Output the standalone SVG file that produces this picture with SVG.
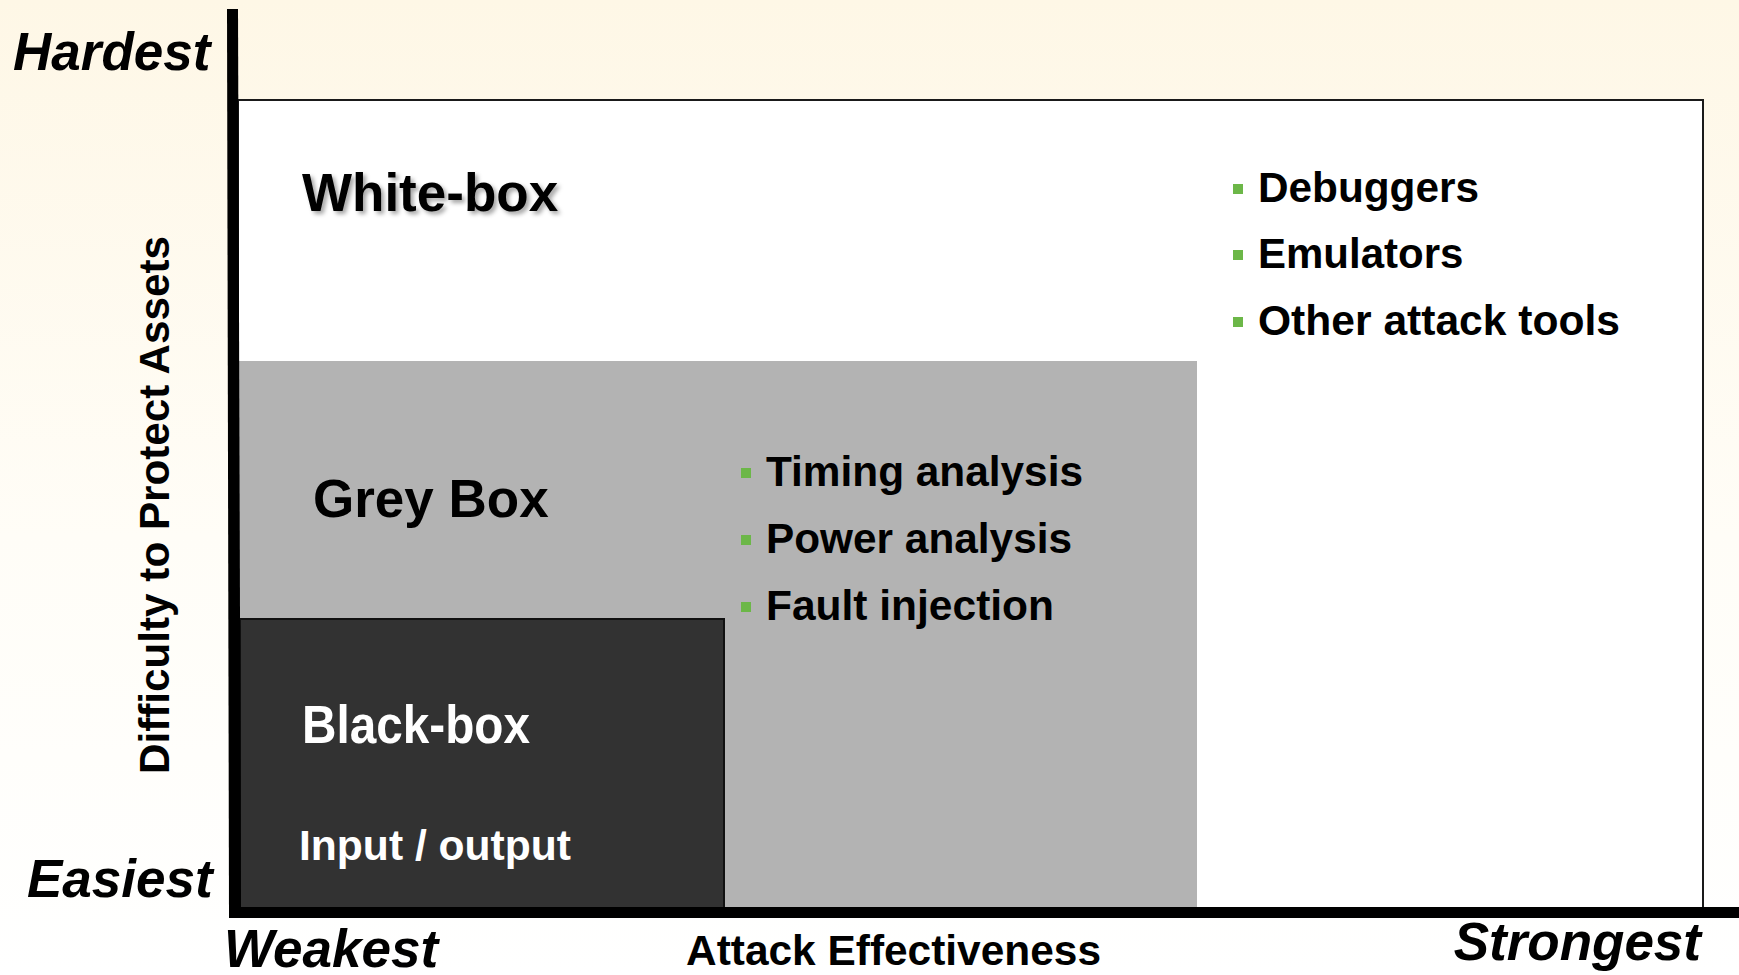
<svg xmlns="http://www.w3.org/2000/svg" width="1739" height="975" viewBox="0 0 1739 975">
  <defs>
    <linearGradient id="bgGrad" x1="0" y1="0" x2="0" y2="1">
      <stop offset="0" stop-color="#fef7e6"/>
      <stop offset="0.55" stop-color="#fffdf7"/>
      <stop offset="1" stop-color="#ffffff"/>
    </linearGradient>
    <filter id="softShadow" x="-10%" y="-30%" width="120%" height="160%">
      <feDropShadow dx="3" dy="3" stdDeviation="2" flood-color="#000000" flood-opacity="0.35"/>
    </filter>
    <style>
      .axis-end { font-family: "Liberation Sans", Arial, sans-serif; font-weight: bold; font-style: italic; font-size: 53px; fill: #000; }
      .axis-title { font-family: "Liberation Sans", Arial, sans-serif; font-weight: bold; font-size: 42px; fill: #000; }
      .zone-title { font-family: "Liberation Sans", Arial, sans-serif; font-weight: bold; font-size: 53px; fill: #000; }
      .item { font-family: "Liberation Sans", Arial, sans-serif; font-weight: bold; font-size: 42px; fill: #000; }
      .light { fill: #ffffff; }
      .bullet { fill: #6cb748; }
    </style>
  </defs>

  <!-- page background -->
  <rect x="0" y="0" width="1739" height="975" fill="url(#bgGrad)"/>

  <!-- White-box zone (outer frame) -->
  <g id="white-box">
    <rect x="238" y="100" width="1465" height="808" fill="#ffffff" stroke="#1a1a1a" stroke-width="2"/>
    <text class="zone-title" x="302" y="211" filter="url(#softShadow)">White-box</text>
    <rect class="bullet" x="1233" y="184" width="10" height="10"/>
    <text class="item" x="1258" y="202" textLength="221" lengthAdjust="spacingAndGlyphs">Debuggers</text>
    <rect class="bullet" x="1233" y="250" width="10" height="10"/>
    <text class="item" x="1258" y="268">Emulators</text>
    <rect class="bullet" x="1233" y="317" width="10" height="10"/>
    <text class="item" x="1258" y="335" textLength="362" lengthAdjust="spacingAndGlyphs">Other attack tools</text>
  </g>

  <!-- Grey Box zone -->
  <g id="grey-box">
    <rect x="239" y="361" width="958" height="547" fill="#b3b3b3"/>
    <text class="zone-title" x="313" y="517">Grey Box</text>
    <rect class="bullet" x="741" y="468" width="10" height="10"/>
    <text class="item" x="766" y="486" textLength="317" lengthAdjust="spacingAndGlyphs">Timing analysis</text>
    <rect class="bullet" x="741" y="535" width="10" height="10"/>
    <text class="item" x="766" y="553" textLength="306" lengthAdjust="spacingAndGlyphs">Power analysis</text>
    <rect class="bullet" x="741" y="602" width="10" height="10"/>
    <text class="item" x="766" y="620" textLength="288" lengthAdjust="spacingAndGlyphs">Fault injection</text>
  </g>

  <!-- Black-box zone -->
  <g id="black-box">
    <rect x="240" y="619" width="484" height="289" fill="#323232" stroke="#111111" stroke-width="2"/>
    <text class="zone-title light" x="302" y="743" font-size="51" textLength="228" lengthAdjust="spacingAndGlyphs">Black-box</text>
    <text class="item light" x="299" y="860" font-size="45" textLength="272" lengthAdjust="spacingAndGlyphs">Input / output</text>
  </g>

  <!-- axes -->
  <g id="axes">
    <polygon points="227,9 238,9 241,918 229,918" fill="#000"/>
    <rect x="229" y="907" width="1510" height="11" fill="#000"/>
  </g>

  <!-- axis labels -->
  <g id="axis-labels">
    <text class="axis-end" x="13" y="70">Hardest</text>
    <text class="axis-end" x="27" y="897">Easiest</text>
    <text class="axis-end" x="224" y="967">Weakest</text>
    <text class="axis-end" x="1701" y="960" text-anchor="end">Strongest</text>
    <text class="axis-title" x="686" y="965" textLength="415" lengthAdjust="spacingAndGlyphs">Attack Effectiveness</text>
    <text class="axis-title" transform="translate(169,505) rotate(-90)" x="0" y="0" text-anchor="middle" font-size="41" textLength="538" lengthAdjust="spacingAndGlyphs">Difficulty to Protect Assets</text>
  </g>
</svg>
